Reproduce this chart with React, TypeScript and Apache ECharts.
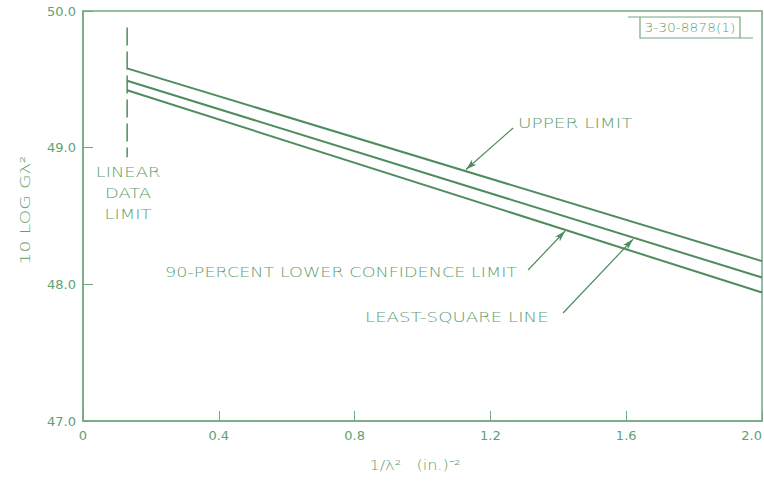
import React, { useEffect, useRef } from "react";
import * as echarts from "echarts";

// ---- data ----
const xStart = 0.13; // linear data limit
const xEnd = 2.0;
const upperLimit = [49.58, 48.17];
const leastSquareLine = [49.49, 48.05];
const lowerConfidence = [49.42, 47.94];
const linearLimitSpan = [49.88, 48.93];
const xTicks = [0, 0.4, 0.8, 1.2, 1.6, 2.0];
const yTicks = [47.0, 48.0, 49.0, 50.0];
// arrows: [fromX, fromY, toX, toY] in data units
const arrowUpper = [1.267, 49.144, 1.128, 48.84];
const arrowLower = [1.311, 48.105, 1.42, 48.39];
const arrowLeast = [1.414, 47.79, 1.62, 48.33];

const LINE = "#4e8c5e";
const TEXT = "#62a072";
const AXIS = "#73a982";
const FONT = '"DejaVu Sans", sans-serif';

function arrow(a: number[]) {
  return [
    { coord: [a[0], a[1]], symbol: "none" },
    { coord: [a[2], a[3]], symbol: "arrow", symbolSize: [5, 11] },
  ];
}

function label(text: string, x: number, y: number, align: string, sx = 1.28, extra: any = {}) {
  return {
    type: "text",
    x,
    y,
    scaleX: sx,
    style: {
      text,
      fill: TEXT,
      fontFamily: FONT,
      fontSize: 14,
      fontWeight: 200,
      align,
      verticalAlign: "middle",
      ...extra,
    },
  };
}

export default function App() {
  const ref = useRef<HTMLDivElement>(null);
  useEffect(() => {
    if (!ref.current) return;
    const chart = echarts.init(ref.current, null, { renderer: "svg" });
    const seg = (v: number[]) => [
      [xStart, v[0]],
      [xEnd, v[1]],
    ];
    const lineSeries = (name: string, v: number[]) => ({
      name,
      type: "line",
      data: seg(v),
      symbol: "none",
      lineStyle: { color: LINE, width: 2 },
      silent: true,
    });
    chart.setOption({
      animation: false,
      backgroundColor: "#ffffff",
      grid: {
        left: 83,
        top: 11,
        right: 2,
        bottom: 62,
        containLabel: false,
        outerBoundsMode: "none",
        show: true,
        borderColor: AXIS,
        borderWidth: 1.5,
      },
      xAxis: {
        type: "value",
        min: 0,
        max: 2.0,
        interval: 0.4,
        axisLine: { show: true, lineStyle: { color: AXIS, width: 1.5 } },
        axisTick: { show: true, inside: true, length: 10, lineStyle: { color: AXIS } },
        splitLine: { show: false },
        axisLabel: {
          color: TEXT,
          fontFamily: FONT,
          fontSize: 13,
          margin: 8,
          alignMaxLabel: "right",
          formatter: (v: number) =>
            xTicks.includes(+v.toFixed(1)) ? (v === 0 ? "0" : v.toFixed(1)) : "",
        },
      },
      yAxis: {
        type: "value",
        min: 47,
        max: 50,
        interval: 1,
        axisLine: { show: true, lineStyle: { color: AXIS, width: 1.5 } },
        axisTick: { show: true, inside: true, length: 10, lineStyle: { color: AXIS } },
        splitLine: { show: false },
        axisLabel: {
          color: TEXT,
          fontFamily: FONT,
          fontSize: 13,
          margin: 7,
          formatter: (v: number) => (yTicks.includes(v) ? v.toFixed(1) : ""),
        },
      },
      series: [
        lineSeries("Upper limit", upperLimit),
        lineSeries("Least-square line", leastSquareLine),
        lineSeries("90-percent lower confidence limit", lowerConfidence),
        {
          name: "Linear data limit",
          type: "line",
          data: [
            [xStart, linearLimitSpan[0]],
            [xStart, linearLimitSpan[1]],
          ],
          symbol: "none",
          lineStyle: { color: LINE, width: 1.5, type: [18, 6] },
          silent: true,
          markLine: {
            silent: true,
            symbol: ["none", "arrow"],
            label: { show: false },
            lineStyle: { color: LINE, width: 1.2, type: "solid" },
            data: [arrow(arrowUpper), arrow(arrowLower), arrow(arrowLeast)],
          },
        },
      ],
      graphic: [
        {
          type: "text",
          x: 25,
          y: 210,
          rotation: Math.PI / 2,
          scaleX: 1.35,
          style: {
            text: "10 LOG Gλ²",
            fill: TEXT,
            fontFamily: FONT,
            fontSize: 14,
            fontWeight: 200,
            align: "center",
            verticalAlign: "middle",
          },
        },
        label("1/λ²   (in.)⁻²", 415, 465, "center", 1.15),
        label("LINEAR\nDATA\nLIMIT", 128, 193, "center", 1.28, { lineHeight: 21 }),
        label("UPPER LIMIT", 518, 123, "left", 1.32),
        label("90-PERCENT LOWER CONFIDENCE LIMIT", 165, 272, "left", 1.26),
        label("LEAST-SQUARE LINE", 365, 317, "left", 1.3),
        {
          type: "polyline",
          shape: { points: [[628, 17], [740, 17], [740, 38]] },
          style: { stroke: AXIS, lineWidth: 1.2, fill: "none" },
        },
        {
          type: "polyline",
          shape: { points: [[640, 17], [640, 38], [753, 38]] },
          style: { stroke: AXIS, lineWidth: 1.2, fill: "none" },
        },
        label("3-30-8878(1)", 690, 28, "center", 1.15, { fontSize: 12 }),
      ],
    });
    return () => chart.dispose();
  }, []);
  return (
    <div
      ref={ref}
      style={{ position: "fixed", left: 0, top: 0, width: 764, height: 483, background: "#fff" }}
    />
  );
}
